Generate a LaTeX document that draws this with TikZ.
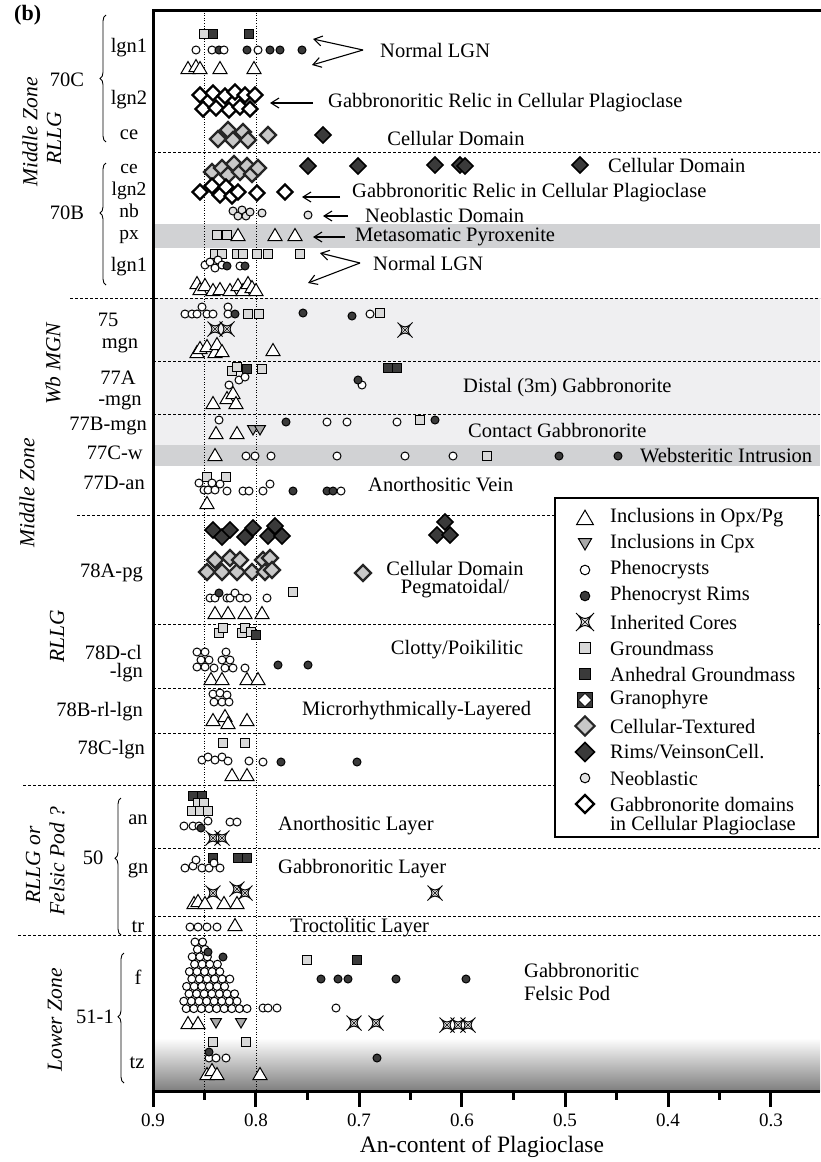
\documentclass[tikz,border=0pt]{standalone}
\usepackage{fontspec}
\setmainfont{Liberation Serif}
\usetikzlibrary{decorations.pathreplacing,arrows.meta}
\definecolor{darkg}{HTML}{3A3A3A}
\definecolor{sqgray}{HTML}{D9D9D9}
\definecolor{cellgray}{HTML}{C8C8C8}
\definecolor{diaedge}{HTML}{262626}
\definecolor{neog}{HTML}{E2E2E2}
\definecolor{stargray}{HTML}{E0E0E0}
\definecolor{itrigray}{HTML}{A9A9A9}
\definecolor{bandlight}{HTML}{EFEFF1}
\definecolor{banddark}{HTML}{D1D2D4}
\definecolor{gradbot}{HTML}{7E7E7E}
\tikzset{
 lab/.style={font=\fontsize{20.5}{24}\selectfont, inner sep=0pt},
 slab/.style={font=\fontsize{19.5}{22}\selectfont, inner sep=0pt},
 rotlab/.style={font=\fontsize{21.5}{24}\selectfont\itshape, rotate=90, inner sep=0pt},
 ticklab/.style={font=\fontsize{19}{22}\selectfont, inner sep=0pt},
 sepline/.style={line width=0.9pt, dash pattern=on 3pt off 2pt},
 vdot/.style={line width=1pt, dash pattern=on 1pt off 1.6pt},
 brc/.style={line width=0.9pt, decorate, decoration={brace, amplitude=6pt, aspect=#1}},
 arr/.style={line width=1.1pt, -{Straight Barb[length=8pt,width=10pt]}},
 mk/.style={line width=1pt, draw=black},
 ptri/.pic={\draw[mk, fill=white, line join=miter] (-7,5.5) -- (7,5.5) -- (0,-6.5) -- cycle;},
 pitri/.pic={\draw[mk, fill=itrigray] (-5.5,-4.5) -- (5.5,-4.5) -- (0,5) -- cycle;},
 pcirc/.pic={\draw[mk, fill=white] (0,0) circle[radius=4];},
 pdcirc/.pic={\draw[mk, fill=darkg] (0,0) circle[radius=4];},
 pneo/.pic={\draw[mk, fill=neog] (0,0) circle[radius=4];},
 psq/.pic={\draw[mk, fill=sqgray] (-4.5,-4.5) rectangle (4.5,4.5);},
 pdsq/.pic={\draw[mk, fill=darkg] (-4.5,-4.5) rectangle (4.5,4.5);},
 pstar/.pic={\draw[mk, fill=stargray] (-7.5,-7.5) .. controls (-2,-1.5) and (2,-1.5) .. (7.5,-7.5) .. controls (1.5,-2) and (1.5,2) .. (7.5,7.5) .. controls (2,1.5) and (-2,1.5) .. (-7.5,7.5) .. controls (-1.5,2) and (-1.5,-2) .. (-7.5,-7.5) -- cycle; \draw[line width=0.5pt] (-3.5,-3.5) -- (3.5,3.5) (-3.5,3.5) -- (3.5,-3.5);},
 pcell/.pic={\draw[line width=2.2pt, draw=diaedge, fill=cellgray] (0,-8) -- (8,0) -- (0,8) -- (-8,0) -- cycle;},
 prim/.pic={\draw[line width=1.6pt, draw=black, fill=darkg] (0,-8) -- (8,0) -- (0,8) -- (-8,0) -- cycle;},
 pgab/.pic={\draw[line width=2.4pt, draw=black, fill=white] (0,-7.5) -- (7.5,0) -- (0,7.5) -- (-7.5,0) -- cycle;},
 pgrano/.pic={\draw[mk, fill=darkg] (-6,-6) rectangle (6,6); \draw[line width=0.8pt, fill=white] (0,-5.5) -- (5.5,0) -- (0,5.5) -- (-5.5,0) -- cycle;},
}
\begin{document}
\begin{tikzpicture}[x=1pt,y=-1pt]
\useasboundingbox (0,0) rectangle (820,1162);
% backgrounds
\fill[bandlight] (153,298) rectangle (820,445);
\fill[banddark] (153,445) rectangle (820,466);
\fill[banddark] (153,224) rectangle (820,248);
\shade[top color=white, bottom color=gradbot] (153,1038) rectangle (820,1091);
% separators
\foreach \a/\y in {153/152,70/298,153/361,153/414,77/515,153/624,153/688,153/733,23/785,153/848,153/916,18/935}
  \draw[sepline] (\a,\y) -- (820,\y);
\draw[vdot] (204.5,10) -- (204.5,1091);
\draw[vdot] (256,10) -- (256,1091);

% ---------- 70C ----------
\pic at (204,34) {psq};
\foreach \x in {213,249} \pic at (\x,34) {pdsq};
\foreach \x in {196,212} \pic at (\x,50) {pcirc};
\pic at (219,50) {pdcirc};
\foreach \x in {224,258} \pic at (\x,50) {pcirc};
\foreach \x in {247,270,280,302} \pic at (\x,50) {pdcirc};
\foreach \x/\y in {188/68,196/66,200/68,220/68,254/68} \pic at (\x,\y) {ptri};
\foreach \x/\y in {200/95,213/93,225/96,235/92,245/95,255/95,203/109,216/108,229/110,240/107,250/109} \pic at (\x,\y) {pgab};
\foreach \x/\y in {218/139,228/130,233/140,243/132,248/140,268/135} \pic at (\x,\y) {pcell};
\pic at (323,135) {prim};
% ---------- 70B ----------
\foreach \x/\y in {212/172,222/168,228/175,234/164,240/172,247/166,252/174,258/168} \pic at (\x,\y) {pcell};
\foreach \x/\y in {308/166,358/166,435/165,460/165,465/166,580/165} \pic at (\x,\y) {prim};
\foreach \x/\y in {200/192,212/186,220/195,226/187,232/196,238/192,257/193,285/192} \pic at (\x,\y) {pgab};
\foreach \x/\y in {233/211,238/216,242/210,246/216,250/212,262/213,308/215} \pic at (\x,\y) {pneo};
\foreach \x in {217,227} \pic at (\x,235) {psq};
\foreach \x in {238,275,295} \pic at (\x,235) {ptri};
\foreach \x in {215,222,237,243,257,268,300} \pic at (\x,254) {psq};
\foreach \x/\y in {205/265,210/262,215/268,218/260,222/265,240/266} \pic at (\x,\y) {pcirc};
\foreach \x/\y in {227/266,245/266} \pic at (\x,\y) {pdcirc};
\foreach \x/\y in {197/283,200/289,205/285,213/290,220/289,230/290,238/285,243/290,248/283,252/287,256/290} \pic at (\x,\y) {ptri};
% ---------- 75 ----------
\foreach \x/\y in {185/314,192/314,197/314,202/307,207/314,213/314,228/307,228/314,370/314} \pic at (\x,\y) {pcirc};
\foreach \x/\y in {235/314,303/313,352/316} \pic at (\x,\y) {pdcirc};
\foreach \x/\y in {248/314,259/314,380/313} \pic at (\x,\y) {psq};
\foreach \x/\y in {215/329,227/329,405/330} \pic at (\x,\y) {pstar};
\foreach \x/\y in {197/352,200/348,207/346,215/352,217/344,222/351,273/350} \pic at (\x,\y) {ptri};
% ---------- 77A ----------
\foreach \x/\y in {232/371,237/367,262/369} \pic at (\x,\y) {psq};
\foreach \x/\y in {247/369,388/368,397/368} \pic at (\x,\y) {pdsq};
\foreach \x/\y in {229/385,239/380,245/377,362/385} \pic at (\x,\y) {pcirc};
\pic at (358,380) {pdcirc};
\foreach \x/\y in {213/403,227/398,233/393,236/403} \pic at (\x,\y) {ptri};
% ---------- 77B ----------
\foreach \x/\y in {219/420,327/422,347/422,397/422} \pic at (\x,\y) {pcirc};
\foreach \x/\y in {286/422,435/420} \pic at (\x,\y) {pdcirc};
\pic at (420,420) {psq};
\foreach \x in {216,237} \pic at (\x,433) {ptri};
\foreach \x in {253,260} \pic at (\x,430) {pitri};
% ---------- 77C ----------
\pic at (215,455) {ptri};
\foreach \x in {246,255,271,337,405,453} \pic at (\x,456) {pcirc};
\pic at (487,456) {psq};
\foreach \x in {559,618} \pic at (\x,456) {pdcirc};
% ---------- 77D ----------
\foreach \x in {207,226} \pic at (\x,477) {psq};
\foreach \x/\y in {199/483,204/490,208/490,212/483,215/490,220/484,227/491,243/491,249/491,263/491,270/484} \pic at (\x,\y) {pcirc};
\foreach \x in {293,327,333} \pic at (\x,491) {pdcirc};
\pic at (341,491) {pcirc};
\pic at (207,503) {ptri};
% ---------- 78A ----------
\foreach \x/\y in {213/530,222/537,230/530,245/537,253/528,268/536,275/526,282/536,445/522,437/535,450/535} \pic at (\x,\y) {prim};
\foreach \x/\y in {207/572,215/560,222/572,230/558,237/572,240/560,252/572,263/560,265/572,270/558,272/570,363/573} \pic at (\x,\y) {pcell};
\foreach \x/\y in {210/598,215/598,227/598,230/598,235/593,240/598,247/598,267/598} \pic at (\x,\y) {pcirc};
\pic at (219,593) {pdcirc};
\pic at (293,592) {psq};
\foreach \x in {215,228,245,262} \pic at (\x,613) {ptri};
% ---------- 78D ----------
\foreach \x/\y in {219/633,223/628,242/633,245/628,251/632} \pic at (\x,\y) {psq};
\pic at (256,635) {pdsq};
\foreach \x/\y in {197/652,205/652,201/660,209/660,197/667,205/667,214/668,222/660,226/652,230/660,225/668,233/668,245/668} \pic at (\x,\y) {pcirc};
\foreach \x in {278,308} \pic at (\x,665) {pdcirc};
\foreach \x in {211,222,247,258} \pic at (\x,679) {ptri};
% ---------- 78B ----------
\foreach \x/\y in {213/694,220/693,227/695,214/702,222/702,229/702} \pic at (\x,\y) {pcirc};
\foreach \x/\y in {213/720,225/716,228/723,247/720} \pic at (\x,\y) {ptri};
% ---------- 78C ----------
\foreach \x in {223,245} \pic at (\x,743) {psq};
\foreach \x/\y in {202/760,208/757,215/760,222/757,228/761,249/761,263/762} \pic at (\x,\y) {pcirc};
\foreach \x in {281,357} \pic at (\x,762) {pdcirc};
\foreach \x in {232,247} \pic at (\x,775) {ptri};
% ---------- 50 an ----------
\foreach \x in {193,202} \pic at (\x,796) {pdsq};
\foreach \x/\y in {198/803,204/803,192/811,200/811,208/811} \pic at (\x,\y) {psq};
\foreach \x/\y in {184/826,193/826,199/826,208/821,230/822,237/822} \pic at (\x,\y) {pcirc};
\pic at (201,828) {pdcirc};
\foreach \x in {213,222} \pic at (\x,838) {pstar};
% ---------- 50 gn ----------
\foreach \x in {213,238,247} \pic at (\x,858) {pdsq};
\foreach \x/\y in {185/868,193/866,196/860,202/868,209/868,214/863,220/868} \pic at (\x,\y) {pcirc};
\foreach \x/\y in {213/893,237/889,245/893,435/893} \pic at (\x,\y) {pstar};
\foreach \x/\y in {194/903,198/901,205/903,224/903,237/903} \pic at (\x,\y) {ptri};
% ---------- 50 tr ----------
\foreach \x in {190,198,207,217} \pic at (\x,927) {pcirc};
\pic at (235,925) {ptri};
% ---------- 51-1 f ----------
\foreach \r in {0,...,9}{
  \pgfmathsetmacro{\yy}{942+\r*7.4}
  \pgfmathtruncatemacro{\nn}{1+\r*0.8}
  \pgfmathsetmacro{\off}{mod(\r,2)*3.8}
  \foreach \k in {0,...,\nn}{
    \pgfmathsetmacro{\xx}{195-1.4*\r+\off+\k*7.6}
    \pic at (\xx,\yy) {pcirc};
  }
}
\foreach \x/\y in {208/952,223/957} \pic at (\x,\y) {pdcirc};
\pic at (307,960) {psq};
\pic at (357,960) {pdsq};
\foreach \x in {321,338,348,396,466} \pic at (\x,979) {pdcirc};
\foreach \x in {263,268,277,336} \pic at (\x,1008) {pcirc};
\foreach \x in {188,198} \pic at (\x,1023) {ptri};
\foreach \x in {216,241} \pic at (\x,1023) {pitri};
\foreach \x/\y in {354/1023,376/1023,447/1025,458/1025,468/1025} \pic at (\x,\y) {pstar};
% ---------- 51-1 tz ----------
\foreach \x in {213,246} \pic at (\x,1042) {psq};
\foreach \x in {209,216,226} \pic at (\x,1058) {pcirc};
\pic at (209,1052) {pdcirc};
\pic at (377,1058) {pdcirc};
\foreach \x/\y in {207/1074,212/1070,217/1074,260/1074} \pic at (\x,\y) {ptri};

% ---------- right-side labels and arrows ----------
\node[lab, anchor=west] (t1) at (380,50) {Normal LGN};
\coordinate (v1) at (363,50); \coordinate (v1a) at (313,39); \coordinate (v1b) at (312,65);
\draw[arr] (v1) -- (v1a); \draw[arr] (v1) -- (v1b);
\node[lab, anchor=west] (t2) at (328,103) {Gabbronoritic Relic in Cellular Plagioclase};
\coordinate (a2s) at (313,103); \coordinate (a2e) at (270,103);
\draw[arr] (a2s) -- (a2e);
\node[lab] (t3) at (456,138) {Cellular Domain};
\node[lab, anchor=west] (t4) at (608,165) {Cellular Domain};
\node[lab, anchor=west] (t5) at (352,193) {Gabbronoritic Relic in Cellular Plagioclase};
\coordinate (a5s) at (340,197); \coordinate (a5e) at (302,197);
\draw[arr] (a5s) -- (a5e);
\node[lab, anchor=west] (t6) at (365,215) {Neoblastic Domain};
\coordinate (a6s) at (348,216); \coordinate (a6e) at (323,216);
\draw[arr] (a6s) -- (a6e);
\node[lab, anchor=west] (t7) at (355,237) {Metasomatic Pyroxenite};
\coordinate (a7s) at (345,237); \coordinate (a7e) at (313,237);
\draw[arr] (a7s) -- (a7e);
\node[lab, anchor=west] (t8) at (373,263) {Normal LGN};
\coordinate (v8) at (360,263); \coordinate (v8a) at (320,253); \coordinate (v8b) at (308,283);
\draw[arr] (v8) -- (v8a); \draw[arr] (v8) -- (v8b);
\node[lab, anchor=west] (t9) at (463,388) {Distal (3m) Gabbronorite};
\node[lab, anchor=west] (t10) at (468,430) {Contact Gabbronorite};
\node[lab, anchor=west] (t11) at (640,456) {Websteritic Intrusion};
\node[lab, anchor=west] (t12) at (368,485) {Anorthositic Vein};
\node[lab] (t13) at (455,568) {Cellular Domain};
\node[lab] (t14) at (455,589) {Pegmatoidal/};
\node[lab] (t15) at (457,650) {Clotty/Poikilitic};
\node[lab, anchor=west] (t16) at (302,711) {Microrhythmically-Layered};
\node[lab, anchor=west] (t17) at (278,826) {Anorthositic Layer};
\node[lab, anchor=west] (t18) at (278,869) {Gabbronoritic Layer};
\node[lab, anchor=west] (t19) at (290,928) {Troctolitic Layer};
\node[lab, anchor=west] (t20) at (524,970) {Gabbronoritic};
\node[lab, anchor=west] (t21) at (524,993) {Felsic Pod};

% ---------- left labels ----------
\node[font=\fontsize{22}{24}\selectfont\bfseries, inner sep=0pt, anchor=west] (b) at (14,15) {(b)};
\node[rotlab] (z1) at (30,132) {Middle Zone};
\node[rotlab] (z2) at (54,138) {RLLG};
\node[rotlab] (z3) at (27,493) {Middle Zone};
\node[rotlab] (z4) at (53,364) {Wb MGN};
\node[rotlab] (z5) at (57,636) {RLLG};
\node[rotlab] (z6) at (33,865) {RLLG or};
\node[rotlab] (z7) at (57,861) {Felsic Pod ?};
\node[rotlab] (z8) at (55,1020) {Lower Zone};
\node[lab] (s70c) at (67,80) {70C};
\node[lab] (r1) at (129,48) {lgn1};
\node[lab] (r2) at (129,100) {lgn2};
\node[lab] (r3) at (129,135) {ce};
\node[lab] (s70b) at (67,213) {70B};
\node[slab] (r4) at (129,169) {ce};
\node[slab] (r5) at (129,191) {lgn2};
\node[slab] (r6) at (129,211) {nb};
\node[slab] (r7) at (129,237) {px};
\node[lab] (r8) at (129,267) {lgn1};
\draw[brc=0.5] (106,142) -- (106,15);
\draw[brc=0.59] (106,285) -- (106,163);
\node[lab] (r9) at (108,320) {75};
\node[lab] (r10) at (120,345) {mgn};
\node[lab] (r11) at (118,378) {77A};
\node[lab] (r12) at (120,402) {-mgn};
\node[lab, anchor=east] (r13) at (147,426) {77B-mgn};
\node[lab, anchor=east] (r14) at (143,453) {77C-w};
\node[lab, anchor=east] (r15) at (145,483) {77D-an};
\node[lab, anchor=east] (r16) at (143,573) {78A-pg};
\node[lab, anchor=east] (r17) at (142,652) {78D-cl};
\node[lab, anchor=east] (r18) at (143,673) {-lgn};
\node[lab, anchor=east] (r19) at (143,712) {78B-rl-lgn};
\node[lab, anchor=east] (r20) at (145,750) {78C-lgn};
\node[lab] (s50) at (93,858) {50};
\node[lab] (r21) at (138,820) {an};
\node[lab] (r22) at (138,870) {gn};
\node[lab] (r23) at (138,927) {tr};
\draw[brc=0.56] (121,935) -- (121,798);
\node[lab] (s51) at (95,1017) {51-1};
\node[lab] (r24) at (138,977) {f};
\node[lab] (r25) at (137,1063) {tz};
\draw[brc=0.51] (124,1083) -- (124,953);

% ---------- legend ----------
\draw[line width=1.3pt, fill=white] (555,498) rectangle (818,837);
\foreach \nm/\y in {ptri/518, pitri/544, pcirc/570, pdcirc/596, pstar/622, psq/648, pdsq/674, pgrano/700, pcell/726, prim/752, pneo/778, pgab/804}{
  \pic[scale=1.2] at (585,\y) {\nm};
}
\node[lab, anchor=west] (l1) at (610,518) {Inclusions in Opx/Pg};
\node[lab, anchor=west] (l2) at (610,544) {Inclusions in Cpx};
\node[lab, anchor=west] (l3) at (610,570) {Phenocrysts};
\node[lab, anchor=west] (l4) at (610,596) {Phenocryst Rims};
\node[lab, anchor=west] (l5) at (610,622) {Inherited Cores};
\node[lab, anchor=west] (l6) at (610,648) {Groundmass};
\node[lab, anchor=west] (l7) at (610,674) {Anhedral Groundmass};
\node[lab, anchor=west] (l8) at (610,700) {Granophyre};
\node[lab, anchor=west] (l9) at (610,726) {Cellular-Textured};
\node[lab, anchor=west] (l10) at (610,752) {Rims/VeinsonCell.};
\node[lab, anchor=west] (l11) at (610,778) {Neoblastic};
\node[lab, anchor=west] (l12) at (610,804) {Gabbronorite domains};
\node[lab, anchor=west] (l13) at (610,826) {in Cellular Plagioclase};

% ---------- frame and axis ----------
\draw[line width=3pt, line cap=rect] (153,10) -- (820,10);
\draw[line width=3pt] (153,10) -- (153,1107);
\draw[line width=3pt] (153,1091) -- (820,1091);
\foreach \v in {0.8,0.7,0.6,0.5,0.4,0.3}
  \draw[line width=3pt] ({153+(0.9-\v)*1030},1091) -- ({153+(0.9-\v)*1030},1107);
\foreach \v in {0.85,0.75,0.65,0.55,0.45,0.35}
  \draw[line width=3pt] ({153+(0.9-\v)*1030},1091) -- ({153+(0.9-\v)*1030},1100);
\foreach \v/\nm in {0.9/k9,0.8/k8,0.7/k7,0.6/k6,0.5/k5,0.4/k4,0.3/k3}
  \node[ticklab] (\nm) at ({153+(0.9-\v)*1030},1120) {\v};
\node[font=\fontsize{23.5}{26}\selectfont, inner sep=0pt] (xt) at (482,1147) {An-content of Plagioclase};
\end{tikzpicture}
\end{document}
